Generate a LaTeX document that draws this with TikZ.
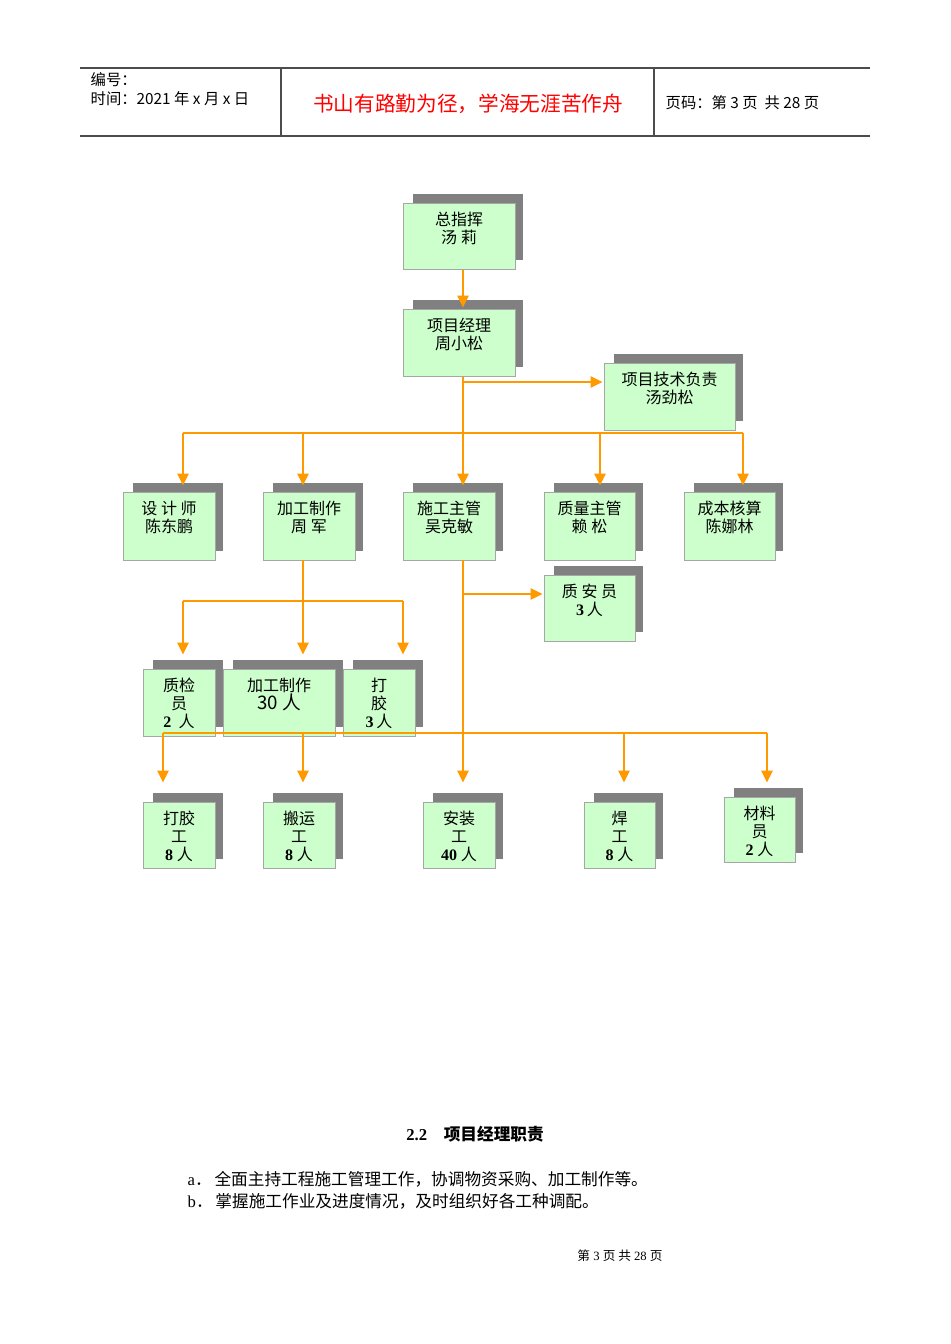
\documentclass[tikz,border=0pt]{standalone}
\usepackage{fontspec}
\setmainfont{Liberation Serif}
\newfontfamily\cjk{Noto Sans CJK SC}
\usetikzlibrary{arrows.meta}
\definecolor{gfill}{HTML}{CCFFCC}
\definecolor{org}{HTML}{FF9900}
\definecolor{shad}{HTML}{808080}
\tikzset{
 gbox/.style={draw=black!35,fill=gfill,line width=0.6pt,inner sep=0pt,align=center,font=\cjk\fontsize{12}{13.5}\selectfont},
 conn/.style={draw=org,line width=2.2pt},
 arr/.style={conn,-{Triangle[length=9pt,width=8pt]},shorten >=1pt},
}
\newcommand\obox[6]{%
 \fill[shad] (#2+10,-#3+9) rectangle (#4+8,-#5+9);
 \node[gbox,minimum width={(#4-#2)*0.75pt},minimum height={(#5-#3)*0.75pt},anchor=north west] (#1) at (#2,-#3) {};
 \node[gbox,draw=none,fill=none,anchor=north] at ({(#2+#4)/2},-#3-9) {#6};}
\begin{document}
\begin{tikzpicture}[x=0.75pt,y=0.75pt]
\useasboundingbox[fill=white] (0,0) rectangle (950,-1344);
% header
\draw[black!70,line width=0.8pt] (80,-68) -- (870,-68);
\draw[black!70,line width=1pt] (80,-136) -- (870,-136);
\draw[black!70,line width=0.8pt] (281,-68) -- (281,-136) (654,-68) -- (654,-136);
\node[anchor=west,font=\cjk\fontsize{11.5}{13}\selectfont] (h1) at (86,-80) {编号：};
\node[anchor=west,font=\cjk\fontsize{11.5}{13}\selectfont] (h2) at (86,-99) {时间：2021 年 x 月 x 日};
\node[text=red,font=\cjk\fontsize{15.5}{18}\selectfont] (h3) at (468,-104) {书山有路勤为径，学海无涯苦作舟};
\node[anchor=west,font=\cjk\fontsize{11.5}{13}\selectfont] (h4) at (661,-103) {页码：第 3 页\ \ 共 28 页};
% boxes
\obox{zong}{403}{203}{515}{269}{总指挥\\汤\ 莉}
\obox{xm}{403}{309}{515}{376}{项目经理\\周小松}
\obox{js}{604}{363}{735}{430}{项目技术负责\\汤劲松}
\obox{sj}{123}{492}{215}{560}{设\ 计\ 师\\陈东鹏}
\obox{jg}{263}{492}{355}{560}{加工制作\\周\ 军}
\obox{sg}{403}{492}{495}{560}{施工主管\\吴克敏}
\obox{zl}{544}{492}{635}{560}{质量主管\\赖\ 松}
\obox{cb}{684}{492}{775}{560}{成本核算\\陈娜林}
\obox{zay}{544}{575}{635}{641}{质\ 安\ 员\\{\rmfamily\bfseries 3}\,人}
\obox{zj}{143}{669}{215}{736}{质检\\员\\{\rmfamily\bfseries 2}\ \ 人}
\obox{jgz}{223}{669}{335}{736}{加工制作\\{\fontsize{14}{16}\selectfont 30 人}}
\obox{dj}{343}{669}{415}{736}{打\\胶\\{\rmfamily\bfseries 3}\,人}
\obox{b1}{143}{802}{215}{868}{打胶\\工\\{\rmfamily\bfseries 8}\ 人}
\obox{b2}{263}{802}{335}{868}{搬运\\工\\{\rmfamily\bfseries 8}\ 人}
\obox{b3}{423}{802}{495}{868}{安装\\工\\{\rmfamily\bfseries 40}\ 人}
\obox{b4}{584}{802}{655}{868}{焊\\工\\{\rmfamily\bfseries 8}\ 人}
\obox{b5}{724}{797}{795}{862}{材料\\员\\{\rmfamily\bfseries 2}\ 人}
% connectors
\coordinate (m1) at (463,-382);
\coordinate (m2) at (463,-594);
\coordinate (bus1) at (463,-433);
\coordinate (bl) at (183,-433);
\coordinate (br) at (743,-433);
\draw[arr] (zong.south -| m1) -- (m1 |- xm.north);
\draw[conn] (xm.south -| m1) -- (bus1);
\draw[arr] (m1) -- (m1 -| js.west);
\draw[conn] (bl) -- (br);
\foreach \x in {183,303,463,600,743} \draw[arr] (\x,-433) -- (\x,-487);
\draw[conn] (303,-560) -- (303,-601);
\draw[conn] (183,-601) -- (403,-601);
\foreach \x in {183,303,403} \draw[arr] (\x,-601) -- (\x,-656);
\draw[arr] (463,-560) -- (463,-784);
\draw[arr] (m2) -- (m2 -| zay.west);
\draw[conn] (163,-733) -- (767,-733);
\foreach \x in {163,303,624,767} \draw[arr] (\x,-733) -- (\x,-784);
% text
\node[font=\cjk\bfseries\fontsize{12.5}{15}\selectfont] (t1) at (475,-1134) {{\rmfamily 2.2}\quad 项目经理职责};
\node[anchor=west,font=\fontsize{12.5}{15}\selectfont] (t2) at (183,-1179) {a{\cjk ．}\,{\cjk 全面主持工程施工管理工作，协调物资采购、加工制作等。}};
\node[anchor=west,font=\fontsize{12.5}{15}\selectfont] (t3) at (183,-1201) {b{\cjk ．}\,{\cjk 掌握施工作业及进度情况，及时组织好各工种调配。}};
\node[font=\fontsize{9.5}{11}\selectfont] (t4) at (620,-1256) {{\cjk 第} 3 {\cjk 页 共} 28 {\cjk 页}};
\end{tikzpicture}
\end{document}
